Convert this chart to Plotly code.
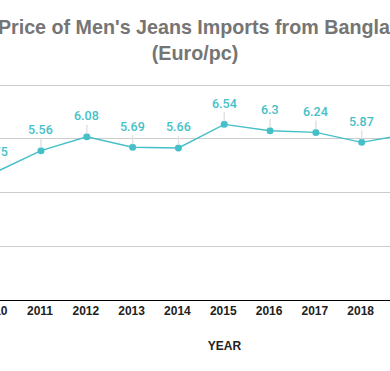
import plotly.graph_objects as go

years = [2010, 2011, 2012, 2013, 2014, 2015, 2016, 2017, 2018, 2019]
prices = [4.75, 5.56, 6.08, 5.69, 5.66, 6.54, 6.30, 6.24, 5.87, 6.18]
labels = ["4.75", "5.56", "6.08", "5.69", "5.66", "6.54", "6.3", "6.24", "5.87", "6.18"]
title_text = "Unit Price of Men's Jeans Imports from Bangladesh<br>(Euro/pc)"

TEAL = "#45bfc8"
SHIFT = 60
W, H = 557, 371

fig = go.Figure()
fig.add_trace(go.Scatter(
    x=years, y=prices, mode="lines+markers",
    line=dict(color=TEAL, width=1.4),
    marker=dict(color=TEAL, size=7),
    hoverinfo="skip", showlegend=False,
))

for xv, yv, t in zip(years, prices, labels):
    fig.add_annotation(
        x=xv, y=yv, xref="x", yref="y", text=t,
        showarrow=True, arrowhead=0, arrowwidth=1.5, arrowcolor="#e2e2e2",
        ax=0, ay=-21, standoff=3,
        font=dict(family="Roboto", size=12.5, color=TEAL, weight=500),
    )

fig.update_layout(
    width=W, height=H,
    margin=dict(l=32, r=W - 537, t=83, b=71),
    paper_bgcolor="white", plot_bgcolor="white",
    title=dict(text=title_text, x=(195 + SHIFT) / W, xref="container", xanchor="center",
               y=1 - 34 / H, yref="container", yanchor="top",
               font=dict(family="Liberation Sans", size=19.7, color="#757575", weight="bold")),
    xaxis=dict(
        range=[2009.494, 2020.517], tickmode="array", tickvals=years,
        ticktext=[str(y) for y in years], showgrid=False, zeroline=False,
        showline=True, linecolor="#000000", linewidth=1, ticklabelshift=-1,
        tickfont=dict(family="Liberation Sans", size=12, color="#222222", weight="bold"),
        title=dict(text="YEAR", standoff=24,
                   font=dict(family="Liberation Sans", size=12, color="#222222", weight="bold")),
    ),
    yaxis=dict(
        range=[0, 8.08], tickvals=[0, 2, 4, 6, 8], showgrid=True, gridcolor="#cccccc", gridwidth=1,
        zeroline=False, showline=False,
        tickfont=dict(family="Liberation Sans", size=12, color="#222222"),
    ),
)

post = ("document.documentElement.style.margin='0';document.body.style.margin='0';"
        "document.documentElement.style.overflow='hidden';document.body.style.overflow='hidden';"
        "var d=document.getElementById('{plot_id}');d.style.marginLeft='-%dpx';" % SHIFT)
fig.write_html("out.html", post_script=post, config={"displayModeBar": False})
